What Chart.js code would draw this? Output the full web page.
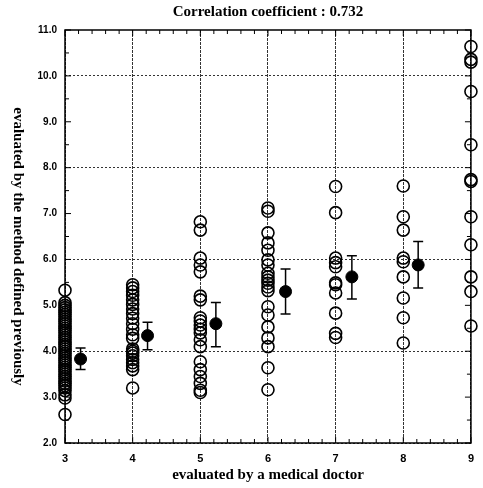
<!DOCTYPE html>
<html>
<head>
<meta charset="utf-8">
<script src="https://cdn.jsdelivr.net/npm/chart.js@4/dist/chart.umd.min.js"></script>
<style>
  html, body { margin: 0; padding: 0; background: #fff; }
  #wrap { width: 483px; height: 488px; }
</style>
</head>
<body>
<div id="wrap"><canvas id="chart" width="483" height="488"></canvas></div>
<script>
// individual scores per doctor grade
const col3 = [5.33, 5.06, 5.0, 4.95, 4.9, 4.85, 4.8, 4.75, 4.7, 4.65, 4.6, 4.55, 4.5, 4.45, 4.4, 4.35, 4.3, 4.25, 4.2, 4.15, 4.1, 4.05, 4.0, 3.95, 3.9, 3.85, 3.8, 3.75, 3.7, 3.65, 3.6, 3.55, 3.5, 3.45, 3.4, 3.35, 3.3, 3.25, 3.2, 3.14, 3.05, 2.98, 2.62];
const col4 = [5.45, 5.38, 5.3, 5.22, 5.12, 5.02, 4.92, 4.82, 4.72, 4.6, 4.48, 4.36, 4.28, 4.05, 4.0, 3.96, 3.9, 3.82, 3.75, 3.68, 3.6, 3.2];
const col5 = [6.82, 6.64, 6.03, 5.88, 5.73, 5.2, 5.12, 4.73, 4.66, 4.57, 4.48, 4.4, 4.25, 4.1, 3.77, 3.6, 3.45, 3.3, 3.15, 3.1];
const col6 = [7.12, 7.05, 6.58, 6.36, 6.2, 5.99, 5.88, 5.7, 5.62, 5.55, 5.48, 5.4, 5.32, 4.97, 4.79, 4.53, 4.29, 4.1, 3.64, 3.16];
const col7 = [7.59, 7.02, 6.03, 5.93, 5.84, 5.49, 5.45, 5.27, 4.83, 4.39, 4.3];
const col8 = [7.6, 6.93, 6.64, 6.03, 5.95, 5.62, 5.16, 4.73, 4.18];
const col9 = [10.64, 10.36, 10.3, 9.66, 8.5, 7.74, 7.7, 6.93, 6.32, 5.62, 5.3, 4.55];

const grades = [3, 4, 5, 6, 7, 8, 9];
const columns = [col3, col4, col5, col6, col7, col8, col9];

// means with error bars (drawn slightly right of each column)
const meanX = [3.23, 4.22, 5.23, 6.26, 7.24, 8.22];
const meanY = [3.83, 4.34, 4.6, 5.3, 5.62, 5.88];
const errLow = [3.6, 4.03, 4.1, 4.81, 5.14, 5.38];
const errHigh = [4.07, 4.63, 5.06, 5.79, 6.08, 6.39];

const titleText = 'Correlation coefficient : 0.732';
const xTitle = 'evaluated by a medical doctor';
const yTitle = 'evaluated by the method defined previously';

const scatterPoints = [];
columns.forEach((vals, i) => {
    vals.forEach(v => scatterPoints.push({ x: grades[i], y: v }));
});
const meanPoints = meanX.map((x, i) => ({ x: x, y: meanY[i] }));

const serif = '"Liberation Serif", "DejaVu Serif", serif';
const sans = '"Liberation Sans", Arial, sans-serif';

// frame, inner ticks, error bars and titles
const decorations = {
    id: 'decorations',
    beforeDatasetsDraw(chart) {
        const { ctx, chartArea: a, scales: { x, y } } = chart;
        ctx.save();
        ctx.strokeStyle = '#000';
        ctx.lineWidth = 1.5;
        ctx.strokeRect(a.left, a.top, a.right - a.left, a.bottom - a.top);

        ctx.lineWidth = 1;
        ctx.beginPath();
        for (let k = 15; k <= 45; k++) {
            const px = x.getPixelForValue(k / 5);
            const len = k % 5 === 0 ? 6 : 4;
            ctx.moveTo(px, a.bottom); ctx.lineTo(px, a.bottom - len);
            ctx.moveTo(px, a.top); ctx.lineTo(px, a.top + len);
        }
        for (let k = 4; k <= 22; k++) {
            const py = y.getPixelForValue(k / 2);
            const len = k % 2 === 0 ? 6 : 4;
            ctx.moveTo(a.left, py); ctx.lineTo(a.left + len, py);
            ctx.moveTo(a.right, py); ctx.lineTo(a.right - len, py);
        }
        ctx.stroke();

        // error bars
        ctx.lineWidth = 1.5;
        ctx.beginPath();
        meanX.forEach((mx, i) => {
            const px = x.getPixelForValue(mx);
            const lo = y.getPixelForValue(errLow[i]);
            const hi = y.getPixelForValue(errHigh[i]);
            ctx.moveTo(px, lo); ctx.lineTo(px, hi);
            ctx.moveTo(px - 5, lo); ctx.lineTo(px + 5, lo);
            ctx.moveTo(px - 5, hi); ctx.lineTo(px + 5, hi);
        });
        ctx.stroke();
        ctx.restore();
    },
    afterDraw(chart) {
        const { ctx, chartArea: a } = chart;
        const cx = (a.left + a.right) / 2;
        ctx.save();
        ctx.fillStyle = '#000';
        ctx.textAlign = 'center';
        ctx.textBaseline = 'middle';
        ctx.font = 'bold 15px ' + serif;
        ctx.fillText(titleText, cx, 12);
        ctx.fillText(xTitle, cx, 475);
        ctx.translate(18, (a.top + a.bottom) / 2 + 10);
        ctx.rotate(Math.PI / 2);
        ctx.fillText(yTitle, 0, 0);
        ctx.restore();
    }
};

new Chart(document.getElementById('chart'), {
    type: 'scatter',
    data: {
        datasets: [
            {
                label: 'scores',
                data: scatterPoints,
                pointStyle: 'circle',
                pointRadius: 6,
                pointBorderWidth: 1.6,
                borderColor: '#000',
                backgroundColor: 'rgba(0,0,0,0)',
                clip: false
            },
            {
                label: 'mean',
                data: meanPoints,
                pointStyle: 'circle',
                pointRadius: 6,
                pointBorderWidth: 1,
                borderColor: '#000',
                backgroundColor: '#000',
                clip: false
            }
        ]
    },
    options: {
        responsive: false,
        animation: false,
        devicePixelRatio: 1,
        layout: { padding: { top: 30, right: 6, left: 0, bottom: 0 } },
        plugins: {
            legend: { display: false },
            tooltip: { enabled: false }
        },
        scales: {
            x: {
                type: 'linear',
                min: 3,
                max: 9,
                afterFit: s => { s.height = 45; },
                ticks: {
                    stepSize: 1,
                    padding: 9,
                    color: '#000',
                    font: { family: sans, size: 11, weight: 'bold' }
                },
                grid: {
                    drawTicks: false,
                    color: '#333',
                    lineWidth: 1
                },
                border: { display: false, dash: [3, 1] }
            },
            y: {
                type: 'linear',
                min: 2,
                max: 11,
                afterFit: s => { s.width = 65; },
                ticks: {
                    stepSize: 1,
                    padding: 8,
                    color: '#000',
                    font: { family: sans, size: 10, weight: 'bold' },
                    callback: v => v.toFixed(1)
                },
                grid: {
                    drawTicks: false,
                    color: c => (c.tick && c.tick.value % 2 === 0) ? '#333' : 'rgba(0,0,0,0)',
                    lineWidth: 1
                },
                border: { display: false, dash: [2, 2] }
            }
        }
    },
    plugins: [decorations]
});
</script>
</body>
</html>
